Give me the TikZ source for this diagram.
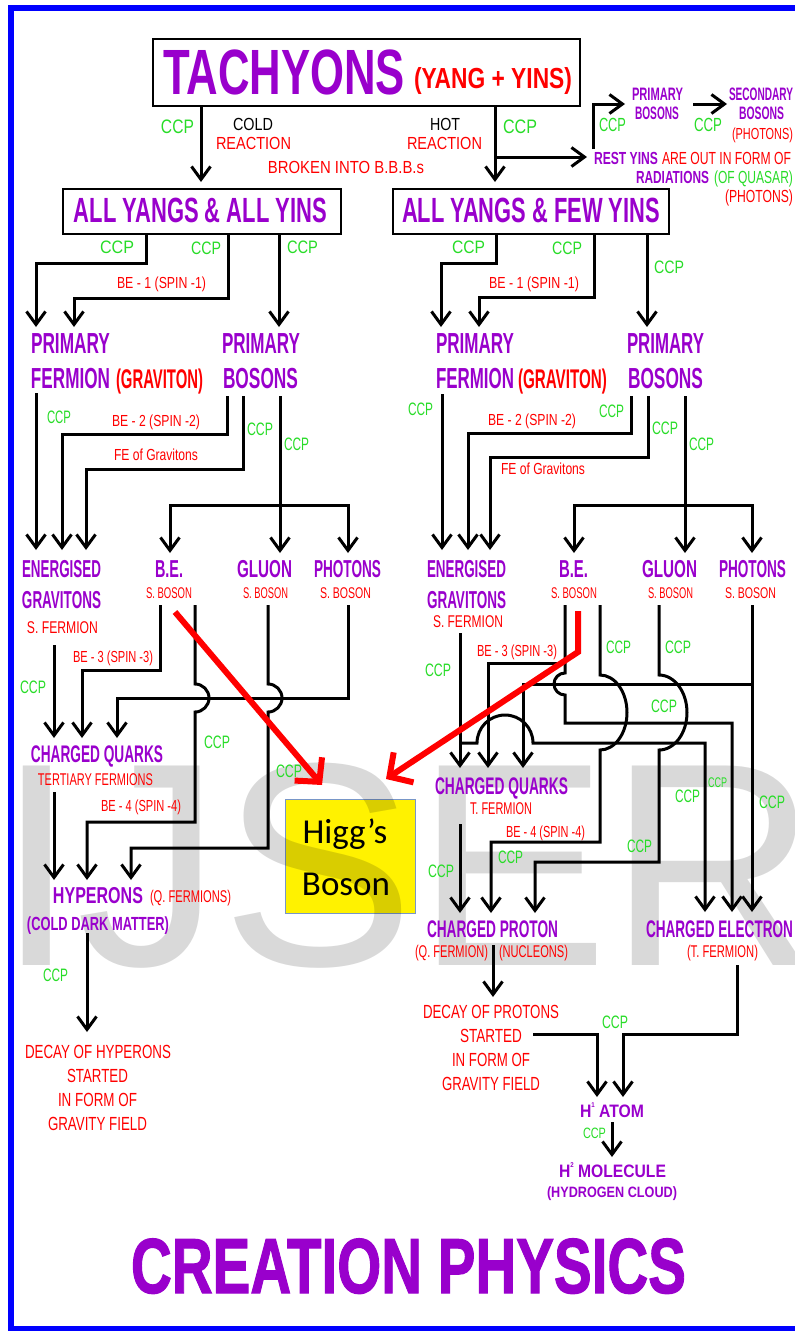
\documentclass[tikz,border=0pt]{standalone}
\usepackage{fontspec}
\setmainfont{Liberation Sans}
\newfontfamily\cbr{Carlito}
\newfontfamily\heavy[FakeBold=1.6]{Liberation Sans Bold}
\usepackage{graphicx}
\usetikzlibrary{arrows.meta}
\definecolor{purp}{RGB}{153,0,204}
\definecolor{redc}{RGB}{255,0,0}
\definecolor{grn}{RGB}{40,220,40}
\definecolor{bdr}{RGB}{0,0,255}
\definecolor{hbd}{RGB}{120,150,200}
\newcommand\lab[7]{\node[#2=#3] (#1) at (#4,#5) {\resizebox{#6pt}{\height}{#7}};}
\newcommand\ccp[5]{\lab{#1}{gl}{#2}{#3}{#4}{#5}{CCP}}
\newcommand\sups[1]{\raisebox{0.55em}{\fontsize{7}{7}\selectfont #1}}
\tikzset{
 txt/.style={inner sep=0pt, anchor=base},
 pl/.style={txt, text=purp, font=\bfseries\fontsize{#1}{#1}\selectfont},
 rl/.style={txt, text=redc, font=\fontsize{#1}{#1}\selectfont},
 rb/.style={txt, text=redc, font=\bfseries\fontsize{#1}{#1}\selectfont},
 gl/.style={txt, text=grn, font=\fontsize{#1}{#1}\selectfont},
 kl/.style={txt, text=black, font=\fontsize{#1}{#1}\selectfont},
 hv/.style={txt, text=purp, font=\heavy\fontsize{#1}{#1}\selectfont},
 conn/.style={line width=3pt, draw=black},
 arr/.style={conn, -{Straight Barb[length=13pt,width=19pt]}},
 redarr/.style={line width=6pt, draw=redc, -{Straight Barb[length=17pt,width=36pt]}},
 box/.style={draw, line width=2pt, inner sep=0pt, fill=white},
}
\begin{document}
\begin{tikzpicture}[x=1pt,y=-1pt]
\useasboundingbox (0,0) rectangle (795,1331);
% Higgs box fill
\node[draw=hbd, fill=yellow, line width=1pt, minimum width=130pt, minimum height=114pt, inner sep=0pt] (higgs) at (350,856) {};
% watermark
\node[anchor=base west, inner sep=0pt, text=black, text opacity=0.15, font=\fontsize{290}{290}\selectfont] (wm) at (-4,965) {IJSER};
% border
\draw[bdr, line width=6pt] (10.5,7.5) rectangle (810,1328.5);
% boxes
\node[box, minimum width=427pt, minimum height=67pt] (tach) at (366.5,72.5) {};
\node[box, minimum width=278pt, minimum height=45pt] (ayl) at (202,211.5) {};
\node[box, minimum width=276pt, minimum height=45pt] (ayr) at (531,211.5) {};

% ---------- texts top
\lab{t1}{pl}{64}{284}{94}{242}{TACHYONS}
\lab{t2}{rb}{29}{493}{88}{158}{(YANG + YINS)}
\ccp{c1}{19.5}{177.5}{133}{33}
\lab{cold}{kl}{17.5}{253}{130}{40}{COLD}
\lab{re1}{rl}{17.5}{253.5}{149}{75}{REACTION}
\lab{brk}{rl}{17.5}{346}{173}{156}{BROKEN INTO B.B.B.s}
\lab{hot}{kl}{17.5}{445}{130}{30}{HOT}
\lab{re2}{rl}{17.5}{444.5}{149}{75}{REACTION}
\ccp{c2}{19.5}{520}{133}{34}
\lab{pb1}{pl}{18}{657.5}{100}{51}{PRIMARY}
\lab{pb2}{pl}{18}{657}{119}{44}{BOSONS}
\lab{sb1}{pl}{18}{761}{100}{64}{SECONDARY}
\lab{sb2}{pl}{18}{761.5}{119}{45}{BOSONS}
\lab{sb3}{rl}{16}{762.5}{139}{61}{(PHOTONS)}
\ccp{c3}{19}{612.5}{131}{27}
\ccp{c4}{19}{708}{131}{28}
\lab{ry1}{pl}{17.5}{626}{164}{64}{REST YINS}
\lab{ry2}{rl}{17.5}{726.5}{164}{129}{ARE OUT IN FORM OF}
\lab{ry3}{pl}{17.5}{672.5}{183}{73}{RADIATIONS}
\lab{ry4}{gl}{17.5}{753.5}{183}{79}{(OF QUASAR)}
\lab{ry5}{rl}{17.5}{759}{202}{68}{(PHOTONS)}
\lab{ayl1}{pl}{35}{200.5}{222}{253}{ALL YANGS \& ALL YINS}
\lab{ayr1}{pl}{35}{531}{222}{258}{ALL YANGS \& FEW YINS}

% ---------- level 2
\ccp{c5}{18}{117}{253}{34}
\ccp{c6}{18}{206}{254}{30}
\ccp{c7}{18}{302.5}{253}{31}
\lab{be1L}{rl}{16}{161.5}{288}{89}{BE - 1 (SPIN -1)}
\lab{prL1}{pl}{29}{70.5}{353}{79}{PRIMARY}
\lab{prL2}{pl}{29}{70.5}{388}{79}{FERMION}
\lab{grL}{rb}{27}{159.5}{388}{87}{(GRAVITON)}
\lab{pbL1}{pl}{29}{261}{353}{78}{PRIMARY}
\lab{pbL2}{pl}{29}{260.5}{388}{75}{BOSONS}
\ccp{c8}{18}{468.5}{253}{33}
\ccp{c9}{18}{567}{254}{30}
\ccp{c10}{18}{669}{273}{30}
\lab{be1R}{rl}{16}{534}{288}{90}{BE - 1 (SPIN -1)}
\lab{prR1}{pl}{29}{475}{353}{78}{PRIMARY}
\lab{prR2}{pl}{29}{475}{388}{78}{FERMION}
\lab{grR}{rb}{27}{562.5}{388}{89}{(GRAVITON)}
\lab{pbR1}{pl}{29}{665.5}{353}{77}{PRIMARY}
\lab{pbR2}{pl}{29}{665.5}{388}{75}{BOSONS}

% ---------- level 3 labels
\ccp{c11}{18}{59}{423}{24}
\lab{be2L}{rl}{16}{156}{426}{88}{BE - 2 (SPIN -2)}
\ccp{c12}{18}{260}{435}{26}
\lab{feL}{rl}{16}{156}{460}{84}{FE of Gravitons}
\ccp{c13}{18}{296.5}{450}{25}
\ccp{c14}{18}{420.5}{415}{25}
\lab{be2R}{rl}{16}{532}{425}{88}{BE - 2 (SPIN -2)}
\ccp{c15}{18}{611.5}{417}{25}
\ccp{c16}{18}{665}{434}{26}
\lab{feR}{rl}{16}{543}{474}{84}{FE of Gravitons}
\ccp{c17}{18}{701.5}{450}{25}

% row 3
\lab{enL1}{pl}{24.5}{61.5}{577}{79}{ENERGISED}
\lab{enL2}{pl}{24.5}{61.5}{608}{79}{GRAVITONS}
\lab{enL3}{rl}{17}{62.5}{633}{71}{S. FERMION}
\lab{beL1}{pl}{24.5}{169}{577}{28}{B.E.}
\lab{beL2}{rl}{15.5}{169}{598}{46}{S. BOSON}
\lab{glL1}{pl}{24.5}{264.5}{577}{55}{GLUON}
\lab{glL2}{rl}{15.5}{265.5}{598}{45}{S. BOSON}
\lab{phL1}{pl}{24.5}{347.5}{577}{67}{PHOTONS}
\lab{phL2}{rl}{15.5}{345.5}{598}{51}{S. BOSON}
\lab{enR1}{pl}{24.5}{466.5}{577}{79}{ENERGISED}
\lab{enR2}{pl}{24.5}{466.5}{608}{79}{GRAVITONS}
\lab{enR3}{rl}{17}{468}{627}{70}{S. FERMION}
\lab{beR1}{pl}{24.5}{573.5}{577}{29}{B.E.}
\lab{beR2}{rl}{15.5}{574}{598}{46}{S. BOSON}
\lab{glR1}{pl}{24.5}{669.5}{577}{55}{GLUON}
\lab{glR2}{rl}{15.5}{670.5}{598}{45}{S. BOSON}
\lab{phR1}{pl}{24.5}{752.5}{577}{67}{PHOTONS}
\lab{phR2}{rl}{15.5}{750.5}{598}{51}{S. BOSON}

% lower left
\lab{be3L}{rl}{16}{113}{662}{80}{BE - 3 (SPIN -3)}
\ccp{c18}{18}{33}{693}{26}
\ccp{c19}{18}{217}{748}{26}
\ccp{c20}{18}{289}{777}{26}
\lab{cqL1}{pl}{24}{97}{762}{132}{CHARGED QUARKS}
\lab{cqL2}{rl}{17}{95.5}{785}{115}{TERTIARY FERMIONS}
\lab{be4L}{rl}{16}{141}{811}{80}{BE - 4 (SPIN -4)}
\lab{hyL1}{pl}{23}{98}{903}{90}{HYPERONS}
\lab{hyL2}{rl}{17}{190.5}{902}{81}{(Q. FERMIONS)}
\lab{hyL3}{pl}{19}{98}{930}{142}{(COLD DARK MATTER)}
\ccp{c21}{18}{55.5}{981}{25}
\lab{dh1}{rl}{19}{98}{1058}{146}{DECAY OF HYPERONS}
\lab{dh2}{rl}{19}{97.5}{1082}{61}{STARTED}
\lab{dh3}{rl}{19}{97.5}{1106}{79}{IN FORM OF}
\lab{dh4}{rl}{19}{97.5}{1130}{99}{GRAVITY FIELD}

% lower right
\lab{be3R}{rl}{16}{517}{656}{80}{BE - 3 (SPIN -3)}
\ccp{c22}{18}{438}{676}{26}
\ccp{c23}{18}{618.5}{653}{25}
\ccp{c24}{18}{678}{653}{26}
\ccp{c25}{18}{664}{712}{26}
\ccp{c26}{18}{687.5}{802}{25}
\ccp{c27}{14}{717.5}{787}{19}
\ccp{c28}{18}{772}{808}{26}
\lab{cqR1}{pl}{24}{501.5}{794}{133}{CHARGED QUARKS}
\lab{cqR2}{rl}{17}{501}{814}{62}{T. FERMION}
\ccp{c29}{18}{441}{877}{26}
\lab{be4R}{rl}{16}{545.5}{837}{79}{BE - 4 (SPIN -4)}
\ccp{c30}{18}{510.5}{863}{25}
\ccp{c31}{18}{639.5}{852}{25}
\lab{cp1}{pl}{24}{492.5}{937}{131}{CHARGED PROTON}
\lab{cp2}{rl}{17}{451.5}{957}{73}{(Q. FERMION)}
\lab{cp3}{rl}{17}{533.5}{957}{69}{(NUCLEONS)}
\lab{ce1}{pl}{24}{719.5}{937}{147}{CHARGED ELECTRON}
\lab{ce2}{rl}{17}{722.5}{957}{71}{(T. FERMION)}
\lab{dp1}{rl}{19}{491}{1018}{136}{DECAY OF PROTONS}
\lab{dp2}{rl}{19}{491}{1042}{62}{STARTED}
\lab{dp3}{rl}{19}{491}{1066}{78}{IN FORM OF}
\lab{dp4}{rl}{19}{491}{1090}{98}{GRAVITY FIELD}
\ccp{c32}{18}{615}{1028}{26}
\lab{h1}{pl}{18}{612}{1117}{64}{H\sups{1} ATOM}
\ccp{c33}{15}{594.5}{1138}{23}
\lab{h2}{pl}{18}{612.5}{1177}{107}{H\sups{2} MOLECULE}
\lab{h3}{pl}{15}{612}{1197}{130}{(HYDROGEN CLOUD)}
\lab{cre}{hv}{78}{408.5}{1293}{555}{CREATION PHYSICS}

% ---------- connectors top
\draw[arr] (201,106) -- (201,182);
\draw[arr] (495,106) -- (495,182);
\draw[arr] (495,157) -- (587,157);
\draw[arr] (593,149) -- (593,104) -- (625,104);
\draw[arr] (693,104) -- (727,104);
% level 1
\draw[arr] (146,234) -- (146,263) -- (36,263) -- (36,327);
\draw[arr] (228,234) -- (228,298) -- (74,298) -- (74,327);
\draw[arr] (279,234) -- (279,327);
\draw[arr] (496,234) -- (496,263) -- (441,263) -- (441,327);
\draw[arr] (594,234) -- (594,297) -- (479,297) -- (479,327);
\draw[arr] (647,234) -- (647,327);
% level 2
\draw[arr] (36,393) -- (36,550);
\draw[arr] (227,396) -- (227,434) -- (62,434) -- (62,550);
\draw[arr] (243,396) -- (243,469) -- (86,469) -- (86,550);
\draw[arr] (280,396) -- (280,553);
\draw[arr] (280,505) -| (170,553);
\draw[arr] (280,505) -| (348,553);
\draw[arr] (442,394) -- (442,550);
\draw[arr] (631,396) -- (631,433) -- (468,433) -- (468,550);
\draw[arr] (648,396) -- (648,457) -- (490,457) -- (490,550);
\draw[arr] (685,396) -- (685,553);
\draw[arr] (685,505) -| (574,553);
\draw[arr] (685,505) -| (752,553);
% level 3 left
\draw[arr] (54,645) -- (54,738);
\draw[arr] (160,605) -- (160,670) -- (82,670) -- (82,738);
\draw[arr] (348,605) -- (348,698) -- (117,698) -- (117,738);
\draw[arr] (195,605) -- (195,684) arc[start angle=-90, end angle=90, radius=14] -- (195,822) -- (87,822) -- (87,880);
\draw[arr] (268,605) -- (268,684) arc[start angle=-90, end angle=90, radius=14] -- (268,848) -- (131,848) -- (131,880);
\draw[arr] (54,792) -- (54,880);
\draw[arr] (87,933) -- (87,1032);
% level 3 right
\draw[arr] (460,633) -- (460,768);
\draw[arr] (460,743) -- (477,743) arc[start angle=180, end angle=360, radius=28] -- (705,743) -- (705,912);
\draw[arr] (565,605) -- (565,673) arc[start angle=-90, end angle=-270, radius=11] -- (565,723) -- (732,723) -- (732,912);
\draw[arr] (565,663) -- (488,663) -- (488,768);
\draw[arr] (752,605) -- (752,912);
\draw[arr] (752,684) -- (523,684) -- (523,768);
\draw[arr] (600,605) -- (600,675) arc[start angle=-90, end angle=90, x radius=27, y radius=37.5] -- (600,842) -- (491,842) -- (491,913);
\draw[arr] (659,605) -- (659,675) arc[start angle=-90, end angle=90, x radius=28, y radius=37.5] -- (659,862) -- (535,862) -- (535,913);
\draw[arr] (460,824) -- (460,913);
\draw[arr] (493,945) -- (493,997);
\draw[arr] (533,1034) -- (597,1034) -- (597,1097);
\draw[arr] (737,965) -- (737,1034) -- (623,1034) -- (623,1097);
\draw[arr] (612,1122) -- (612,1157);
% red arrows
\draw[redarr] (175,612) -- (322,785);
\draw[redarr] (578,611) -- (578,652) -- (386,779);
% Higgs text
\node[txt, font=\cbr\fontsize{35}{35}\selectfont] (hg1) at (345,843) {Higg’s};
\node[txt, font=\cbr\fontsize{35}{35}\selectfont] (hg2) at (346,895) {Boson};
\end{tikzpicture}
\end{document}
